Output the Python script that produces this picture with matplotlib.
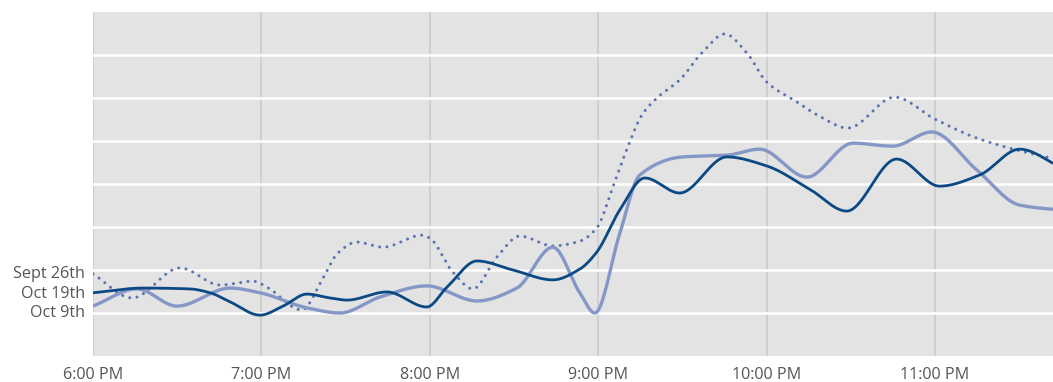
import numpy as np
import matplotlib
matplotlib.use("Agg")
import matplotlib.pyplot as plt

# ---- data (minutes after 6:00 PM, value in grid units) ----
sept26_t = [0, 13.9, 31, 45.2, 57, 62, 74.4, 81.9, 87.3, 94, 103.3, 117.2, 120, 128.2,
            135.3, 143.9, 152, 163.8, 173.4, 179.5, 185.2, 190.5, 195.5, 200.9, 209,
            217.2, 225.1, 232.9, 240, 250.7, 258.2, 268.9, 285.6, 299.9, 314.8, 329.1, 345]
sept26_v = [1.91, 1.35, 2.05, 1.65, 1.74, 1.60, 1.07, 1.81, 2.40, 2.65, 2.53, 2.81, 2.74, 1.95,
            1.56, 2.30, 2.79, 2.56, 2.67, 2.98, 3.93, 4.86, 5.60, 6.00, 6.42,
            7.07, 7.49, 7.05, 6.37, 5.91, 5.60, 5.30, 6.02, 5.51, 5.07, 4.79, 4.55]

oct19_t = [0, 17.8, 34.5, 41.7, 48.8, 59.5, 67.7, 76.2, 84.4, 90.5, 104.7, 118.9, 126.1,
           136.8, 149.6, 163.8, 173.4, 179.5, 187.7, 196.6, 209, 225.8, 240, 255.3,
           268.5, 286.3, 301.6, 315.9, 330.1, 345]
oct19_v = [1.47, 1.58, 1.56, 1.47, 1.26, 0.95, 1.16, 1.44, 1.35, 1.30, 1.49, 1.14, 1.60,
           2.21, 2.00, 1.77, 2.02, 2.42, 3.40, 4.14, 3.79, 4.63, 4.42, 3.88,
           3.37, 4.58, 3.95, 4.21, 4.81, 4.38]

oct9_t = [0, 15.7, 29.9, 48.8, 59.5, 76.2, 88, 102.2, 118.9, 136.8, 151, 163.8, 173.4,
          178.8, 187.7, 194.8, 210.1, 225.8, 237.5, 254.3, 270.7, 284.9, 298.8, 314.8,
          330.1, 345]
oct9_v = [1.16, 1.56, 1.16, 1.58, 1.47, 1.12, 1.00, 1.37, 1.63, 1.28, 1.58, 2.53, 1.47,
          1.00, 2.86, 4.21, 4.63, 4.67, 4.81, 4.16, 4.95, 4.88, 5.21, 4.33,
          3.51, 3.39]

series_labels = ["Sept 26th", "Oct 19th", "Oct 9th"]
label_pos = [1.95, 1.49, 1.05]

hour_ticks = [0, 60, 120, 180, 240, 300]
hour_labels = ["6:00 PM", "7:00 PM", "8:00 PM", "9:00 PM", "10:00 PM", "11:00 PM"]


def pchip(x, y, n=1500):
    x = np.asarray(x, float)
    y = np.asarray(y, float)
    h = np.diff(x)
    d = np.diff(y) / h
    m = np.zeros_like(y)
    for k in range(1, len(x) - 1):
        if d[k - 1] * d[k] <= 0:
            m[k] = 0
        else:
            w1 = 2 * h[k] + h[k - 1]
            w2 = h[k] + 2 * h[k - 1]
            m[k] = (w1 + w2) / (w1 / d[k - 1] + w2 / d[k])
    m[0] = d[0]
    m[-1] = d[-1]
    xs = np.linspace(x[0], x[-1], n)
    idx = np.clip(np.searchsorted(x, xs) - 1, 0, len(x) - 2)
    t = (xs - x[idx]) / h[idx]
    h00 = 2 * t**3 - 3 * t**2 + 1
    h10 = t**3 - 2 * t**2 + t
    h01 = -2 * t**3 + 3 * t**2
    h11 = t**3 - t**2
    ys = h00 * y[idx] + h10 * h[idx] * m[idx] + h01 * y[idx + 1] + h11 * h[idx] * m[idx + 1]
    return xs, ys


fig = plt.figure(figsize=(10.53, 3.82), dpi=100)
ax = fig.add_axes([93 / 1053, 1 - 356 / 382, 1 - 93 / 1053, (356 - 12) / 382])
ax.set_facecolor("#e3e3e3")

ax.set_xlim(0, 342)
ax.set_ylim(0, 8)

for hx in hour_ticks:
    ax.axvline(hx, color="#cbcbcb", lw=1.2, zorder=1)
for gy in range(1, 8):
    ax.axhline(gy, color="white", lw=1.8, zorder=1)

xs, ys = pchip(sept26_t, sept26_v)
ax.plot(xs, ys, color="#5b74b0", lw=2.2, linestyle=(0, (0.01, 2.4)),
        dash_capstyle="round", zorder=3)
xs, ys = pchip(oct9_t, oct9_v)
ax.plot(xs, ys, color="#8497c6", lw=2.4, zorder=4, solid_capstyle="butt")
xs, ys = pchip(oct19_t, oct19_v)
ax.plot(xs, ys, color="#0b4984", lw=2.0, zorder=5, solid_capstyle="butt")

ax.set_xticks(hour_ticks)
ax.set_xticklabels(hour_labels)
ax.set_yticks(label_pos)
ax.set_yticklabels(series_labels)
ax.tick_params(axis="both", length=0, labelsize=11.6, labelcolor="#555555")
ax.tick_params(axis="x", pad=8)
ax.tick_params(axis="y", pad=6)
for lab in ax.get_xticklabels() + ax.get_yticklabels():
    lab.set_family(["Open Sans", "DejaVu Sans"])

for s in ax.spines.values():
    s.set_visible(False)

fig.savefig("out.png", dpi=100)
